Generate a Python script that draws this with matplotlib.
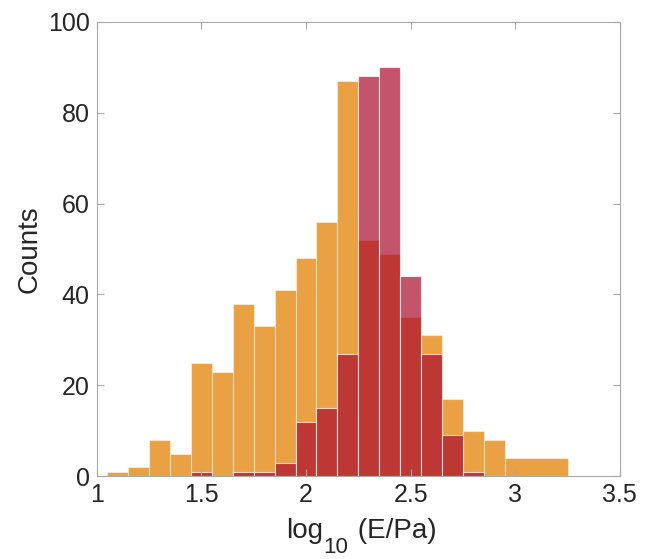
import numpy as np
import matplotlib.pyplot as plt

plt.rcParams['font.family'] = ['Liberation Sans', 'DejaVu Sans']

# bin edges (log10 E/Pa) and counts for the two distributions
orange_edges = [1.05, 1.15, 1.25, 1.35, 1.45, 1.55, 1.65, 1.75, 1.85, 1.95,
                2.05, 2.15, 2.25, 2.35, 2.45, 2.55, 2.65, 2.75, 2.85, 2.95, 3.25]
orange_counts = [1, 2, 8, 5, 25, 23, 38, 33, 41, 48,
                 56, 87, 52, 49, 35, 31, 17, 10, 8, 4]

red_edges = [1.45, 1.55, 1.65, 1.75, 1.85, 1.95, 2.05, 2.15, 2.25,
             2.35, 2.45, 2.55, 2.65, 2.75, 2.85]
red_counts = [1, 0, 1, 1, 3, 12, 15, 27, 88, 90, 44, 27, 9, 1]

xticks = [1, 1.5, 2, 2.5, 3, 3.5]
yticks = [0, 20, 40, 60, 80, 100]

fig = plt.figure(figsize=(6.45, 5.59), dpi=100)
ax = fig.add_axes([0.150, 0.148, 0.811, 0.813])

oe = np.array(orange_edges)
ax.bar(oe[:-1], orange_counts, width=np.diff(oe), align='edge',
       color='#E9A144', edgecolor=(1, 1, 1, 0.45), linewidth=0.8)
re = np.array(red_edges)
ax.bar(re[:-1], red_counts, width=np.diff(re), align='edge',
       color='#AB0A2E', alpha=0.7, edgecolor=(1, 1, 1, 0.35), linewidth=0.8)

ax.set_xlim(1, 3.5)
ax.set_ylim(0, 100)
ax.set_xticks(xticks)
ax.set_xticklabels(['1', '1.5', '2', '2.5', '3', '3.5'])
ax.set_yticks(yticks)

for s in ax.spines.values():
    s.set_color('#A8A8A8')
    s.set_linewidth(0.8)
ax.tick_params(direction='in', length=5, width=0.8, color='#A8A8A8',
               top=True, right=True, labelsize=18, labelcolor='#262626', pad=5)

ax.set_ylabel('Counts', fontsize=20, color='#262626', labelpad=4)

# x label pieced together so the subscript sits low, MATLAB style
tc = '#262626'
t1 = fig.text(0.443, 0.026, 'log', fontsize=20, color=tc, va='bottom', ha='left')
t2 = ax.annotate('10', xy=(1, 0), xycoords=t1, xytext=(0.5, -2.5),
                 textcoords='offset points', fontsize=16, color=tc,
                 va='center', ha='left', annotation_clip=False)
ax.annotate(' (E/Pa)', xy=(1, 0), xycoords=(t2, t1), xytext=(1, 0),
            textcoords='offset points', fontsize=20, color=tc,
            va='bottom', ha='left', annotation_clip=False)

fig.savefig('out.png', dpi=100)
